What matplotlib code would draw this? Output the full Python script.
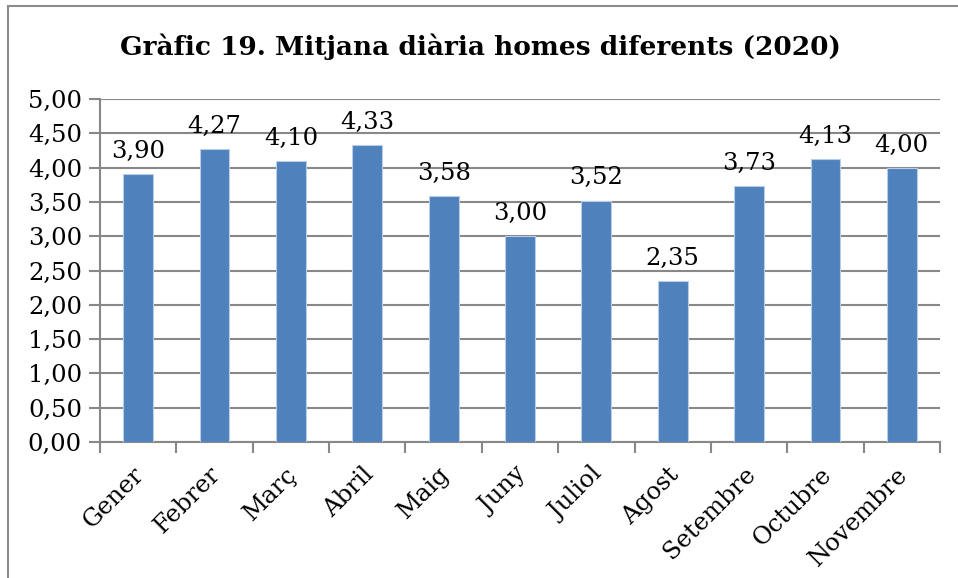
import matplotlib
matplotlib.use("Agg")
import matplotlib.pyplot as plt
from matplotlib.lines import Line2D
from matplotlib.ticker import FuncFormatter, MultipleLocator

# data
months = ['Gener', 'Febrer', 'Març', 'Abril', 'Maig', 'Juny', 'Juliol',
          'Agost', 'Setembre', 'Octubre', 'Novembre']
values = [3.90, 4.27, 4.10, 4.33, 3.58, 3.00, 3.52, 2.35, 3.73, 4.13, 4.00]
title = 'Gràfic 19. Mitjana diària homes diferents (2020)'

plt.rcParams['font.family'] = ['DejaVu Serif']

fig = plt.figure(figsize=(9.58, 5.78), dpi=100)
ax = fig.add_axes([0.1044, 0.2353, 0.8768, 0.5934])

grid_col = '#888888'
x = range(len(months))
ax.bar(x, values, width=0.39, color='#4F81BD', edgecolor='#B9CDE5',
       linewidth=0.8, zorder=3)

def comma(v, pos=None):
    return f'{v:.2f}'.replace('.', ',')

for i, v in zip(x, values):
    ax.annotate(comma(v), (i, v), xytext=(0, 8), textcoords='offset points',
                ha='center', va='bottom', fontsize=17.5, color='black')

ax.set_ylim(0, 5)
ax.set_xlim(-0.5, len(months) - 0.5)
ax.yaxis.set_major_locator(MultipleLocator(0.5))
ax.yaxis.set_major_formatter(FuncFormatter(comma))
ax.grid(axis='y', color=grid_col, linewidth=1.5, zorder=0)

# category boundary ticks on x
ax.set_xticks([i - 0.5 for i in range(len(months) + 1)])
ax.set_xticklabels([])
ax.tick_params(axis='x', length=8, width=1.5, color=grid_col, direction='out')
ax.tick_params(axis='y', length=8, width=1.5, color=grid_col, direction='out',
               labelsize=17.5, pad=5)

for i, m in enumerate(months):
    ax.annotate(m, (i, 0), xytext=(-4, -15), textcoords='offset points',
                ha='right', va='top', rotation=45, rotation_mode='anchor',
                fontsize=17.5, annotation_clip=False)

for s in ['top', 'right']:
    ax.spines[s].set_visible(False)
for s in ['left', 'bottom']:
    ax.spines[s].set_color(grid_col)
    ax.spines[s].set_linewidth(1.5)

fig.text(0.501, 0.919, title, ha='center', va='center', fontsize=19,
         fontweight='bold')

# outer chart frame (left and top edges visible)
fig.add_artist(Line2D([8 / 958, 8 / 958], [0, 1 - 6 / 578],
                      color='#8c8c8c', linewidth=1.5))
fig.add_artist(Line2D([8 / 958, 1], [1 - 6 / 578, 1 - 6 / 578],
                      color='#8c8c8c', linewidth=1.5))

fig.savefig('out.png', dpi=100)
